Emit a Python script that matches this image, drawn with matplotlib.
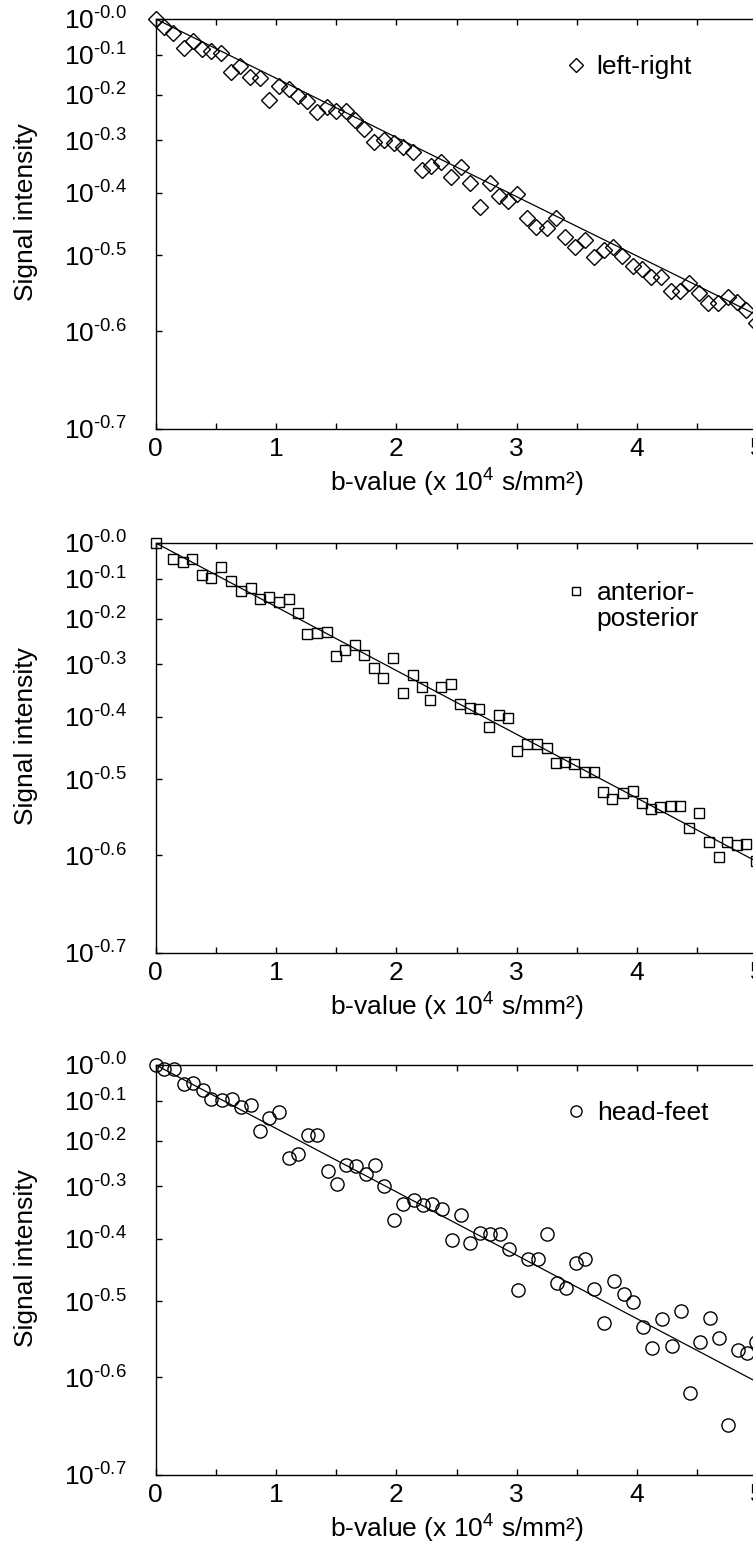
import numpy as np
import matplotlib
matplotlib.use("Agg")
import matplotlib.pyplot as plt
from matplotlib.lines import Line2D
from matplotlib.ticker import FixedLocator, MultipleLocator, NullLocator, FixedFormatter

plt.rcParams['font.family'] = ['Liberation Sans', 'DejaVu Sans']
plt.rcParams['mathtext.fontset'] = 'custom'
plt.rcParams['mathtext.rm'] = 'Liberation Sans'
plt.rcParams['mathtext.it'] = 'Liberation Sans:italic'
plt.rcParams['mathtext.default'] = 'regular'

# --- data (b in 10^4 s/mm^2) ---
b_lr = [0.00, 0.07, 0.145, 0.233, 0.307, 0.382, 0.463, 0.545, 0.623, 0.704,
        0.785, 0.866, 0.941, 1.022, 1.104, 1.178, 1.260, 1.341, 1.422, 1.500,
        1.578, 1.656, 1.731, 1.815, 1.897, 1.981, 2.059, 2.137, 2.215, 2.290,
        2.371, 2.452, 2.534, 2.615, 2.696, 2.774, 2.852, 2.930, 3.005, 3.086,
        3.164, 3.249, 3.327, 3.405, 3.483, 3.564, 3.642, 3.723, 3.801, 3.879,
        3.964, 4.038, 4.120, 4.198, 4.279, 4.357, 4.435, 4.516, 4.594, 4.672,
        4.754, 4.831, 4.909, 4.99]
s_lr = [1.0, 0.976, 0.961, 0.918, 0.938, 0.916, 0.909, 0.906, 0.856, 0.871,
        0.844, 0.840, 0.789, 0.821, 0.814, 0.798, 0.787, 0.760, 0.773, 0.764,
        0.764, 0.743, 0.725, 0.697, 0.701, 0.695, 0.687, 0.676, 0.642, 0.649,
        0.658, 0.628, 0.648, 0.617, 0.575, 0.618, 0.595, 0.586, 0.598, 0.557,
        0.543, 0.542, 0.557, 0.527, 0.512, 0.523, 0.497, 0.508, 0.512, 0.499,
        0.484, 0.480, 0.469, 0.469, 0.450, 0.450, 0.461, 0.447, 0.434, 0.434,
        0.442, 0.435, 0.426, 0.409]

b_ap = [0.00, 0.145, 0.226, 0.301, 0.382, 0.463, 0.545, 0.626, 0.707, 0.788,
        0.863, 0.944, 1.022, 1.104, 1.178, 1.260, 1.341, 1.422, 1.500, 1.575,
        1.656, 1.731, 1.812, 1.890, 1.975, 2.053, 2.137, 2.209, 2.283, 2.371,
        2.452, 2.527, 2.608, 2.690, 2.768, 2.849, 2.924, 3.005, 3.086, 3.167,
        3.249, 3.324, 3.405, 3.476, 3.564, 3.639, 3.720, 3.795, 3.882, 3.964,
        4.038, 4.116, 4.191, 4.279, 4.354, 4.435, 4.516, 4.597, 4.678, 4.750,
        4.831, 4.906, 4.99]
s_ap = [1.0, 0.954, 0.947, 0.953, 0.910, 0.902, 0.933, 0.895, 0.869, 0.875,
        0.848, 0.854, 0.842, 0.848, 0.813, 0.766, 0.767, 0.771, 0.717, 0.730,
        0.741, 0.720, 0.693, 0.672, 0.714, 0.643, 0.679, 0.655, 0.631, 0.656,
        0.660, 0.623, 0.616, 0.615, 0.583, 0.603, 0.599, 0.543, 0.555, 0.555,
        0.547, 0.524, 0.526, 0.522, 0.511, 0.511, 0.481, 0.472, 0.480, 0.483,
        0.466, 0.458, 0.461, 0.462, 0.462, 0.433, 0.453, 0.416, 0.398, 0.415,
        0.412, 0.413, 0.393]

b_hf = [0.00, 0.070, 0.151, 0.233, 0.307, 0.389, 0.463, 0.551, 0.632, 0.707,
        0.788, 0.866, 0.941, 1.022, 1.104, 1.185, 1.266, 1.341, 1.429, 1.503,
        1.581, 1.663, 1.744, 1.819, 1.900, 1.981, 2.056, 2.144, 2.218, 2.296,
        2.378, 2.459, 2.534, 2.615, 2.696, 2.781, 2.859, 2.940, 3.008, 3.093,
        3.174, 3.249, 3.333, 3.411, 3.489, 3.567, 3.645, 3.726, 3.807, 3.889,
        3.970, 4.048, 4.126, 4.207, 4.289, 4.367, 4.441, 4.526, 4.604, 4.685,
        4.760, 4.841, 4.916, 4.99]
s_hf = [1.0, 0.987, 0.989, 0.947, 0.949, 0.930, 0.906, 0.902, 0.906, 0.884,
        0.888, 0.825, 0.856, 0.871, 0.762, 0.771, 0.813, 0.813, 0.732, 0.706,
        0.746, 0.743, 0.727, 0.746, 0.700, 0.635, 0.664, 0.672, 0.662, 0.664,
        0.656, 0.599, 0.643, 0.593, 0.611, 0.608, 0.609, 0.582, 0.516, 0.565,
        0.565, 0.608, 0.527, 0.520, 0.559, 0.566, 0.518, 0.469, 0.531, 0.511,
        0.499, 0.463, 0.436, 0.475, 0.438, 0.486, 0.382, 0.443, 0.476, 0.448,
        0.347, 0.433, 0.429, 0.443]

# fitted mono-exponential lines (end points)
fit_b = [0.0, 5.0]
fit_lr = [1.0, 0.419]
fit_ap = [1.0, 0.392]
fit_hf = [1.0, 0.394]

ytick_vals = [1.0, 0.9, 0.8, 0.7, 0.6, 0.5, 0.4, 0.3]
ytick_labels = [r'$10^{\text{-0.0}}$', r'$10^{\text{-0.1}}$', r'$10^{\text{-0.2}}$',
                r'$10^{\text{-0.3}}$', r'$10^{\text{-0.4}}$', r'$10^{\text{-0.5}}$',
                r'$10^{\text{-0.6}}$', r'$10^{\text{-0.7}}$']

panels = [
    (b_lr, s_lr, fit_lr, 'D', 8.5, ['left-right']),
    (b_ap, s_ap, fit_ap, 's', 7.0, ['anterior-', 'posterior']),
    (b_hf, s_hf, fit_hf, 'o', 9.5, ['head-feet']),
]

W, H = 753, 1549
fig = plt.figure(figsize=(W / 100, H / 100), dpi=100)

fs = 19
x_left = 155.8
px_per_unit = 120.3
x_max = 5.0   # right spine sits just past the cropped picture edge
tops = [19, 543, 1065]
ax_h = 410

for (bv, sv, fit, mk, ms, labels), top in zip(panels, tops):
    ax = fig.add_axes([x_left / W, (H - top - ax_h) / H,
                       x_max * px_per_unit / W, ax_h / H])
    ax.plot(bv, sv, linestyle='none', marker=mk, ms=ms, mfc='none',
            mec='black', mew=1.0, clip_on=False, zorder=3)
    ax.plot(fit_b, fit, color='black', lw=0.9, zorder=2)

    ax.set_yscale('log')
    ax.set_ylim(0.3, 1.0)
    ax.set_xlim(0, x_max)
    ax.yaxis.set_major_locator(FixedLocator(ytick_vals))
    ax.yaxis.set_major_formatter(FixedFormatter(ytick_labels))
    ax.yaxis.set_minor_locator(NullLocator())
    ax.xaxis.set_major_locator(MultipleLocator(1))
    ax.xaxis.set_minor_locator(MultipleLocator(0.5))

    ax.tick_params(axis='both', which='both', direction='in', length=4.5,
                   width=1.0, colors='black', labelsize=fs)
    ax.tick_params(axis='x', which='both', top=True, pad=6)
    ax.tick_params(axis='y', which='both', right=False, pad=21)
    ax.spines['right'].set_visible(False)
    for sp in ['left', 'bottom', 'top']:
        ax.spines[sp].set_linewidth(1.0)

    ax.set_xlabel('b-value (x 10$^{4}$ s/mm²)', fontsize=fs, labelpad=4)
    ax.set_ylabel('Signal intensity', fontsize=fs)
    ax.yaxis.set_label_coords(-0.196, 0.53)

    handles = [Line2D([], [], linestyle='none', marker=mk, ms=ms * 0.85,
                      mfc='none', mec='black', mew=1.0)]
    if len(labels) > 1:
        handles.append(Line2D([], [], linestyle='none'))
        anchor_y = 0.846
    else:
        anchor_y = 0.883
    ax.legend(handles, labels, loc='center left',
              bbox_to_anchor=(0.676, anchor_y), frameon=False,
              fontsize=fs, handlelength=1.0, handletextpad=0.3,
              borderpad=0, borderaxespad=0, labelspacing=0.1)

plt.savefig('out.png', dpi=100)
